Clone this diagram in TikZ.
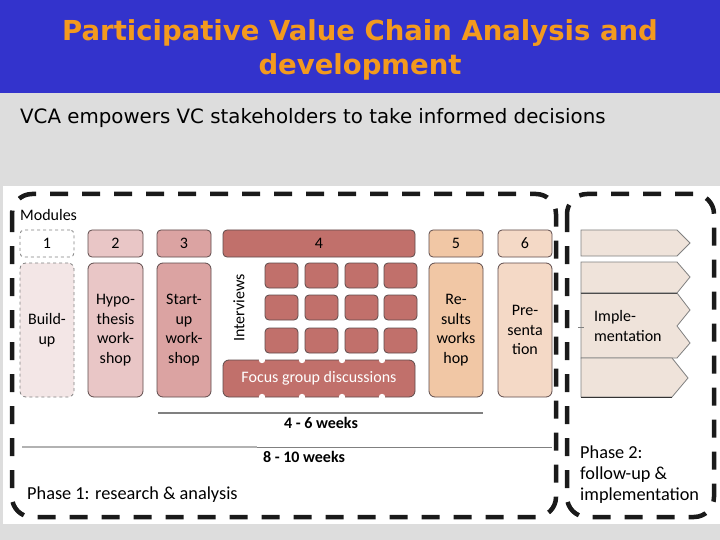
\documentclass[tikz,border=0pt]{standalone}
\usepackage{fontspec}
\setmainfont{Carlito}
\newfontfamily\dejavu{DejaVu Sans}
\definecolor{hdrblue}{RGB}{51,51,204}
\definecolor{titleorange}{RGB}{243,154,30}
\definecolor{bodygray}{RGB}{221,221,221}
\definecolor{cA}{RGB}{243,230,230}
\definecolor{cB}{RGB}{233,198,198}
\definecolor{cC}{RGB}{219,163,162}
\definecolor{cD}{RGB}{193,112,107}
\definecolor{cE}{RGB}{241,199,165}
\definecolor{cF}{RGB}{244,217,198}
\definecolor{cG}{RGB}{239,227,218}
\definecolor{bord}{RGB}{94,75,75}
\definecolor{dashc}{RGB}{26,26,26}
\tikzset{
  mbox/.style={draw=bord, line width=0.8pt, rounded corners=4pt, anchor=north west,
    outer sep=0pt, inner sep=1pt, align=center, font=\fontsize{16}{19.5}\selectfont},
  dashbox/.style={draw=gray, dashed, line width=0.8pt},
  phase/.style={draw=dashc, line width=4.5pt, dash pattern=on 18pt off 14pt, rounded corners=20pt},
  cell/.style={draw=bord, line width=0.8pt, fill=cD, rounded corners=4pt, anchor=north west,
    outer sep=0pt, inner sep=0pt, minimum width=33pt, minimum height=25pt},
  chev/.style={draw=gray, line width=0.8pt, fill=cG},
  lbl/.style={font=\fontsize{16}{19}\selectfont, inner sep=0pt},
  blbl/.style={font=\fontsize{16}{19}\selectfont\bfseries, inner sep=0pt}
}
\begin{document}
\begin{tikzpicture}[x=1pt,y=-1pt]
\useasboundingbox (0,0) rectangle (720,540);
% backgrounds
\fill[bodygray] (0,0) rectangle (720,540);
\fill[hdrblue] (0,0) rectangle (720,93);
\node[text=titleorange, align=center, font=\dejavu\bfseries\fontsize{27.5}{34}\selectfont, inner sep=0pt] (title) at (360,50)
  {Participative Value Chain Analysis and\\development};
\node[anchor=base west, inner sep=0pt, font=\dejavu\fontsize{19.8}{22}\selectfont] (sub) at (20,124)
  {VCA empowers VC stakeholders to take informed decisions};
\fill[white] (3,186) rectangle (720,524);
% phase frames
\draw[phase] (12,194) rectangle (556,517);
\draw[phase] (567,194) rectangle (714,517);
% modules label
\node[lbl, anchor=base west] (modules) at (20,221) {Modules};
% top header boxes
\node[mbox, dashbox, fill=white, rounded corners=4pt, minimum width=54pt, minimum height=27pt] (h1) at (20,230) {1};
\node[mbox, fill=cB, minimum width=55pt, minimum height=27pt] (h2) at (88,230) {2};
\node[mbox, fill=cC, minimum width=54pt, minimum height=27pt] (h3) at (157,230) {3};
\node[mbox, fill=cD, minimum width=192pt, minimum height=27pt] (h4) at (223,230) {4};
\node[mbox, fill=cE, minimum width=54pt, minimum height=27pt] (h5) at (429,230) {5};
\node[mbox, fill=cF, minimum width=54pt, minimum height=27pt] (h6) at (498,230) {6};
% tall boxes
\node[mbox, dashbox, fill=cA, rounded corners=6pt, minimum width=54pt, minimum height=134pt] (b1) at (20,263) {Build-\\up};
\node[mbox, fill=cB, rounded corners=6pt, minimum width=55pt, minimum height=134pt] (b2) at (88,263) {Hypo-\\thesis\\work-\\shop};
\node[mbox, fill=cC, rounded corners=6pt, minimum width=54pt, minimum height=134pt] (b3) at (157,263) {Start-\\up\\work-\\shop};
\node[mbox, fill=cE, rounded corners=6pt, minimum width=54pt, minimum height=134pt] (b5) at (429,263) {Re-\\sults\\works\\hop};
\node[mbox, fill=cF, rounded corners=6pt, minimum width=54pt, minimum height=134pt] (b6) at (498,263) {Pre-\\senta\\tion};
% module 4 content
\node[lbl, rotate=90] (interviews) at (239,308) {Interviews};
\foreach \r/\y in {1/263,2/295,3/328}{
  \foreach \c/\x in {1/265,2/305,3/345,4/384}{
    \node[cell] (g\r\c) at (\x,\y) {};
  }
}
\node[mbox, fill=cD, rounded corners=6pt, minimum width=192pt, minimum height=37pt, text=white] (focus) at (223,360) {Focus group discussions};
\foreach \x in {262,302,342,382}{
  \fill[white] (\x,360) circle (3.2);
  \fill[white] (\x,397) circle (3.2);
}
% time lines
\coordinate (t1a) at (158,413);
\coordinate (t1b) at (483,413);
\draw[gray, line width=1.2pt] (t1a) -- (t1b);
\node[blbl] (w46) at (321,423) {4 - 6 weeks};
\coordinate (t2a) at (22,447);
\coordinate (t2m) at (257,447);
\coordinate (t2b) at (552,447);
\draw[black!30, line width=2.5pt] (t2a) -- (t2m);
\draw[gray, line width=1pt] (t2m) -- (t2b);
\node[blbl] (w810) at (304,457) {8 - 10 weeks};
\node[anchor=base west, inner sep=0pt, font=\fontsize{18.3}{21}\selectfont] (ph1) at (27,499) {Phase 1: research \& analysis};
% phase 2 chevrons
\draw[chev] (581,230) -- (677,230) -- (690,243) -- (677,256) -- (581,256) -- cycle;
\draw[chev] (581,262) -- (677,262) -- (690,277) -- (677,293) -- (581,293) -- cycle;
\draw[chev] (581,293) -- (677,293) -- (690,310) -- (677,326) -- (690,343) -- (677,358) -- (581,358) -- cycle;
\draw[chev] (581,358) -- (672,358) -- (688,378) -- (672,397) -- (581,397) -- cycle;
\draw[black!70, line width=1pt] (581,293) -- (677,293);
\draw[black!80, line width=1pt] (581,397) -- (672,397);
\draw[gray, line width=0.8pt] (578,327) -- (584,327);
\node[anchor=west, align=left, font=\fontsize{16}{19.5}\selectfont, inner sep=0pt] (impl) at (594,326) {Imple-\\mentation};
\node[anchor=north west, align=left, font=\fontsize{18.3}{21}\selectfont, inner sep=0pt] (ph2) at (580,446) {Phase 2:\\follow-up \&\\implementation};
\end{tikzpicture}
\end{document}
